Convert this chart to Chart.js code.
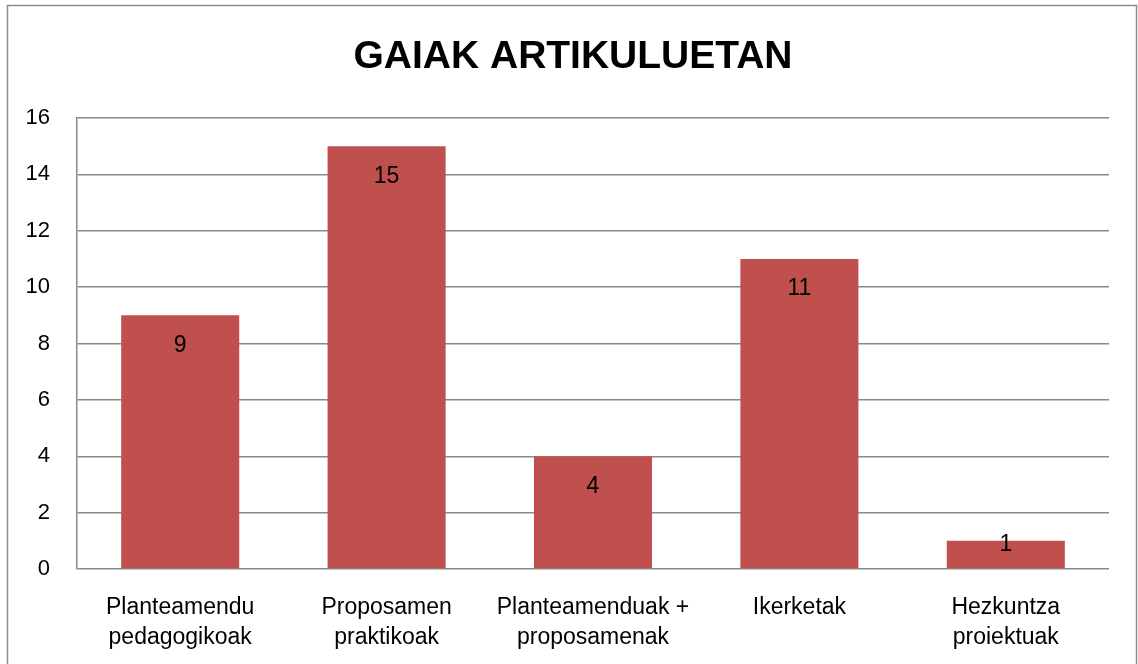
<!DOCTYPE html>
<html>
<head>
<meta charset="utf-8">
<script src="https://cdn.jsdelivr.net/npm/chart.js@4"></script>
<style>
  html, body { margin: 0; padding: 0; background: #fff; }
  #wrap { width: 1138px; height: 664px; position: relative; }
</style>
</head>
<body>
<div id="wrap"><canvas id="grafico" width="1138" height="664"></canvas></div>
<script>
// datos del grafico
const kategoriak = [
    ["Planteamendu", "pedagogikoak"],
    ["Proposamen", "praktikoak"],
    ["Planteamenduak +", "proposamenak"],
    ["Ikerketak"],
    ["Hezkuntza", "proiektuak"]
];
const artikuluak = [9, 15, 4, 11, 1];
const izenburua = "GAIAK ARTIKULUETAN";

const letra = "'Liberation Sans', Arial, sans-serif";

// borde exterior y titulo (centrado en todo el lienzo)
const bordeExterior = {
    id: "bordeExterior",
    beforeDraw(chart) {
        const c = chart.ctx;
        c.save();
        c.strokeStyle = "#8c8c8c";
        c.lineWidth = 1.5;
        c.strokeRect(7.5, 5.5, 1129, 700);
        c.font = "bold 39px " + letra;
        c.fillStyle = "#000";
        c.textAlign = "center";
        c.textBaseline = "middle";
        c.fillText(izenburua, 573, 57);
        c.restore();
    }
};

// etiquetas de valor dentro de las barras
const etiquetas = {
    id: "etiquetas",
    afterDatasetsDraw(chart) {
        const c = chart.ctx;
        const meta = chart.getDatasetMeta(0);
        c.save();
        c.font = "23px " + letra;
        c.fillStyle = "#000";
        c.textAlign = "center";
        c.textBaseline = "middle";
        meta.data.forEach((bar, i) => {
            const y = Math.min(bar.y + 30, bar.base - 24);
            c.fillText(artikuluak[i], bar.x, y);
        });
        c.restore();
    }
};

new Chart(document.getElementById("grafico"), {
    type: "bar",
    data: {
        labels: kategoriak,
        datasets: [{
            data: artikuluak,
            backgroundColor: "#C0504D",
            borderWidth: 0,
            barPercentage: 0.572,
            categoryPercentage: 1
        }]
    },
    options: {
        responsive: false,
        animation: false,
        devicePixelRatio: 1,
        layout: { padding: { left: 0, right: 29, top: 118, bottom: 0 } },
        plugins: {
            legend: { display: false },
            tooltip: { enabled: false },
            title: { display: false }
        },
        scales: {
            x: {
                grid: { display: false, drawTicks: false },
                border: { display: false },
                ticks: {
                    color: "#000",
                    font: { family: letra, size: 23, lineHeight: 1.3 },
                    padding: 24,
                    maxRotation: 0,
                    autoSkip: false
                },
                afterFit(axis) { axis.height = 95; }
            },
            y: {
                min: 0,
                max: 16,
                ticks: {
                    stepSize: 2,
                    color: "#000",
                    font: { family: letra, size: 22 },
                    padding: 27
                },
                grid: { color: "#8a8a8a", lineWidth: 1.5, drawTicks: false },
                border: { display: true, color: "#8a8a8a", width: 1.5 },
                afterFit(axis) { axis.width = 77; }
            }
        }
    },
    plugins: [bordeExterior, etiquetas]
});
</script>
</body>
</html>
